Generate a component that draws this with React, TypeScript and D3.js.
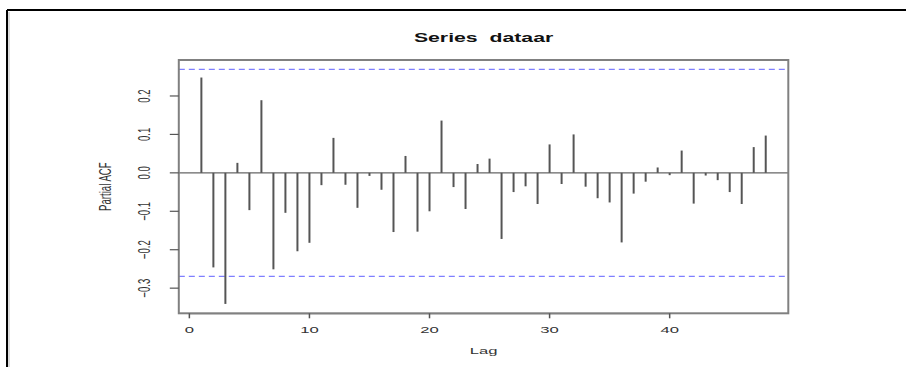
import React from "react";
import * as d3 from "d3";

const lags = [1,2,3,4,5,6,7,8,9,10,11,12,13,14,15,16,17,18,19,20,21,22,23,24,25,26,27,28,29,30,31,32,33,34,35,36,37,38,39,40,41,42,43,44,45,46,47,48];
const pacfValues = [0.248,-0.246,-0.341,0.026,-0.097,0.189,-0.251,-0.104,-0.204,-0.182,-0.032,0.091,-0.031,-0.091,-0.008,-0.044,-0.154,0.044,-0.153,-0.100,0.136,-0.037,-0.094,0.023,0.037,-0.172,-0.050,-0.035,-0.081,0.074,-0.029,0.100,-0.036,-0.066,-0.077,-0.181,-0.054,-0.023,0.014,-0.006,0.058,-0.080,-0.007,-0.019,-0.050,-0.081,0.067,0.097];
const ciBound = 0.2692;
const yTicks = [-0.3, -0.2, -0.1, 0.0, 0.1, 0.2];
const xTicks = [0, 10, 20, 30, 40];
const title = "Series  dataar";
const xLabel = "Lag";
const yLabel = "Partial ACF";

const W = 906, H = 367;
const box = { l: 178.8, r: 788.3, t: 60, b: 313.3 };
const SX = 1.7;
const font = "'Liberation Sans', Arial, Helvetica, sans-serif";

export default function App() {
  const xs = d3.extent(lags) as [number, number];
  const xPad = (xs[1] - xs[0]) * 0.04;
  const x = d3.scaleLinear().domain([xs[0] - xPad, xs[1] + xPad]).range([box.l, box.r]);
  const yMin = Math.min(d3.min(pacfValues)!, -ciBound);
  const yMax = Math.max(d3.max(pacfValues)!, ciBound);
  const yPad = (yMax - yMin) * 0.04;
  const y = d3.scaleLinear().domain([yMin - yPad, yMax + yPad]).range([box.b, box.t]);
  const fmt = d3.format(".1f");

  return (
    <svg width={W} height={H} style={{ position: "absolute", left: 0, top: 0, display: "block", background: "#fff" }}>
      {/* outer frame */}
      <line x1={7} y1={10} x2={W} y2={10} stroke="#000" strokeWidth={2} />
      <line x1={7} y1={10} x2={7} y2={H} stroke="#000" strokeWidth={2} />
      <line x1={9} y1={12} x2={9} y2={H} stroke="#bbb" strokeWidth={1} />

      {/* title */}
      <g transform={`translate(${(box.l + box.r) / 2},42) scale(${SX},1)`}>
        <text textAnchor="middle" fontFamily={font} fontWeight="bold" fontSize={12.5} fill="#111" style={{ whiteSpace: "pre" }}>{title}</text>
      </g>

      {/* zero line */}
      <line x1={box.l} x2={box.r} y1={y(0)} y2={y(0)} stroke="#666" strokeWidth={1.3} />

      {/* CI lines */}
      {[ciBound, -ciBound].map((v, i) => (
        <line key={i} x1={box.l} x2={box.r} y1={y(v)} y2={y(v)} stroke="#7f7fff" strokeWidth={1.2} strokeDasharray="6,4" />
      ))}

      {/* bars */}
      {lags.map((lag, i) => (
        <line key={lag} x1={x(lag)} x2={x(lag)} y1={y(0)} y2={y(pacfValues[i])} stroke="#555" strokeWidth={2} />
      ))}

      {/* box */}
      <rect x={box.l} y={box.t} width={box.r - box.l} height={box.b - box.t} fill="none" stroke="#808080" strokeWidth={2} />

      {/* x axis */}
      <line x1={x(xTicks[0])} x2={x(xTicks[xTicks.length - 1])} y1={box.b + 0.5} y2={box.b + 0.5} stroke="#808080" strokeWidth={1} />
      {xTicks.map((t) => (
        <g key={t}>
          <line x1={x(t)} x2={x(t)} y1={box.b} y2={box.b + 5} stroke="#555" strokeWidth={1.5} />
          <g transform={`translate(${x(t)},333) scale(${SX},1)`}>
            <text textAnchor="middle" fontFamily={font} fontSize={9.8} fill="#333">{t}</text>
          </g>
        </g>
      ))}
      <g transform={`translate(${(box.l + box.r) / 2},354) scale(${SX},1)`}>
        <text textAnchor="middle" fontFamily={font} fontSize={9.8} fill="#333">{xLabel}</text>
      </g>

      {/* y axis */}
      {yTicks.map((t) => (
        <g key={t}>
          <line x1={box.l - 9} x2={box.l} y1={y(t)} y2={y(t)} stroke="#555" strokeWidth={1.2} />
          <g transform={`translate(${150},${y(t)}) scale(${SX},1) rotate(-90)`}>
            <text textAnchor="middle" fontFamily={font} fontSize={9.6} fill="#333">{fmt(t)}</text>
          </g>
        </g>
      ))}
      <g transform={`translate(${111},${(box.t + box.b) / 2}) scale(${SX},1) rotate(-90)`}>
        <text textAnchor="middle" fontFamily={font} fontSize={9.6} fill="#333" style={{ whiteSpace: "pre" }}>{yLabel}</text>
      </g>
    </svg>
  );
}
